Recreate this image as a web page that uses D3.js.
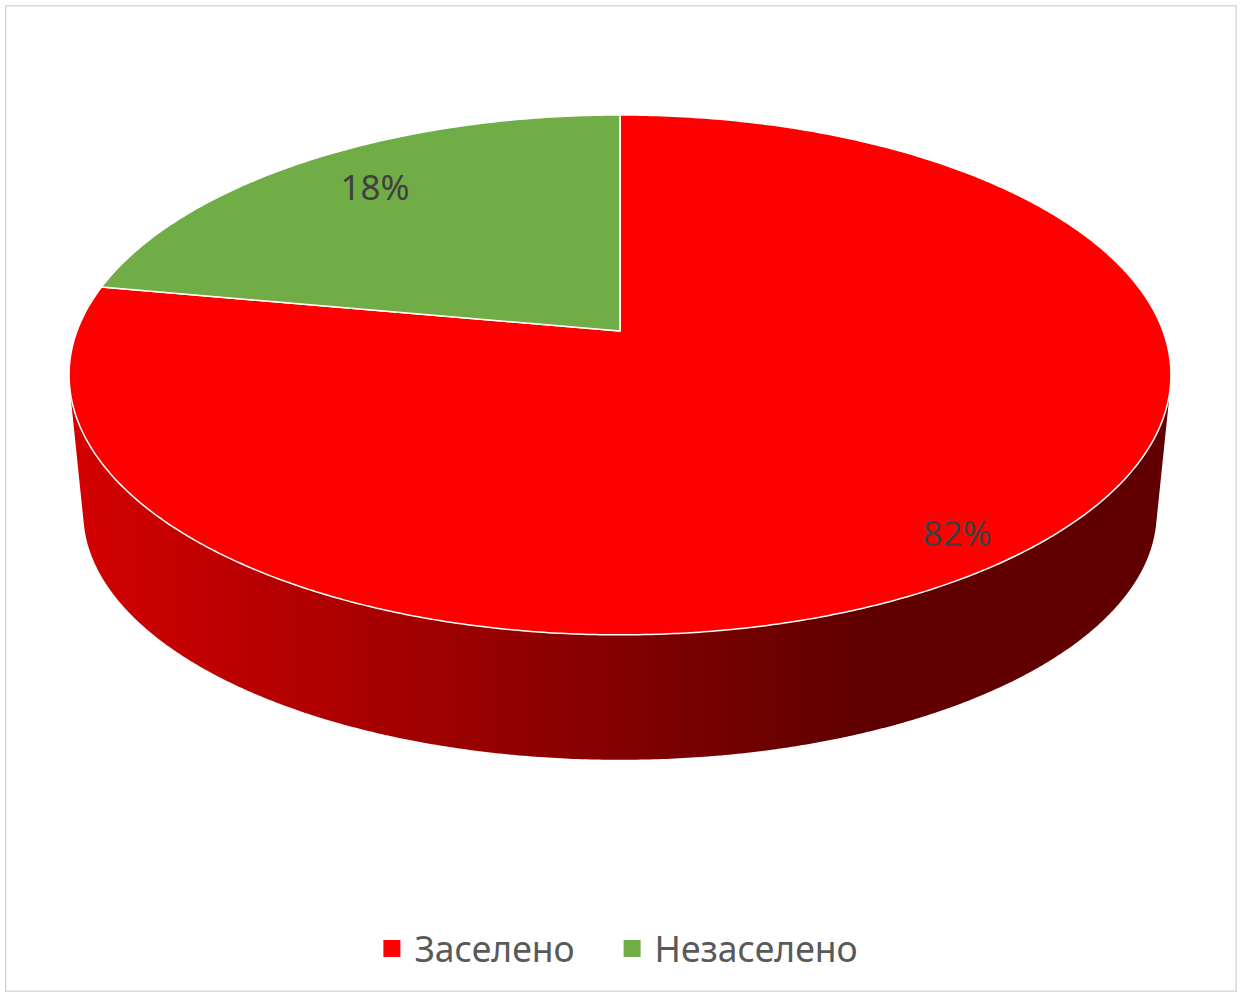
<!DOCTYPE html>
<html>
<head>
<meta charset="utf-8">
<script src="https://cdn.jsdelivr.net/npm/d3@7/dist/d3.min.js"></script>
<style>
  html, body { margin: 0; padding: 0; background: #ffffff; }
  svg { display: block; }
</style>
</head>
<body>
<svg id="chart" width="1243" height="996"></svg>
<script>
// ---- data ----
const categories = ["Заселено", "Незаселено"];
const values = [82, 18];
const labels = ["82%", "18%"];
const colors = ["#ff0000", "#70ad47"];

// ---- layout ----
const W = 1243, H = 996;
const cx = 620, cy = 331;          // projected pie centre
const Sx = 543, Sy = 252.5;        // top face scale
const persp = 0.169;               // perspective factor
const boost = 0.267;               // rim angle distortion (3D view)
const SxB = 529, SyB = 240, cyB = 471; // bottom rim
const font = "'Noto Sans', 'Open Sans', sans-serif";

const svg = d3.select("#chart");

svg.append("rect").attr("x", 5.75).attr("y", 5.75)
  .attr("width", W - 12.5).attr("height", H - 10.5)
  .attr("fill", "#ffffff").attr("stroke", "#d9d9d9").attr("stroke-width", 1.5);

const defs = svg.append("defs");
const grad = defs.append("linearGradient").attr("id", "sideGrad")
  .attr("gradientUnits", "userSpaceOnUse")
  .attr("x1", 70).attr("y1", 0).attr("x2", 860).attr("y2", 0);
grad.append("stop").attr("offset", 0).attr("stop-color", "#d40000");
grad.append("stop").attr("offset", 1).attr("stop-color", "#600000");

function rimPlane(a) {
  const u = Math.sin(a), v = -Math.cos(a);
  const d = 1 + boost * v;
  return [u * Math.sqrt(1 - boost * boost) / d, (v + boost) / d];
}
function topPt(a) {
  const [u, v] = rimPlane(a);
  const w = 1 - persp * v;
  return [cx + Sx * u / w, cy + Sy * v / w];
}
function botPt(a) {
  const [u, v] = rimPlane(a);
  const w = 1 - persp * v;
  return [cx + SxB * u / w, cyB + SyB * v / w];
}

const pie = d3.pie().sort(null).value(d => d).startAngle(0).endAngle(2 * Math.PI);
const arcs = pie(values);

// side walls (union of small quads, all with the same orientation)
const step = Math.PI / 360;
let sidePath = "";
for (let a = 0; a < 2 * Math.PI - 1e-9; a += step) {
  const b = Math.min(a + step * 1.05, 2 * Math.PI);
  let q = [topPt(a), topPt(b), botPt(b), botPt(a)];
  let area = 0;
  for (let j = 0; j < 4; j++) {
    const p = q[j], r = q[(j + 1) % 4];
    area += p[0] * r[1] - r[0] * p[1];
  }
  if (area < 0) q = q.reverse();
  sidePath += "M" + q.map(p => p[0].toFixed(2) + "," + p[1].toFixed(2)).join("L") + "Z";
}
svg.append("path").attr("d", sidePath).attr("fill", "url(#sideGrad)").attr("fill-rule", "nonzero");

// top faces
const line = d3.line();
arcs.forEach((d, i) => {
  const pts = [[cx, cy]];
  const n = Math.max(8, Math.ceil((d.endAngle - d.startAngle) / (Math.PI / 360)));
  for (let j = 0; j <= n; j++) {
    pts.push(topPt(d.startAngle + (d.endAngle - d.startAngle) * j / n));
  }
  svg.append("path").attr("d", line(pts) + "Z")
    .attr("fill", colors[i]).attr("stroke", "#ffffff")
    .attr("stroke-width", 1.5).attr("stroke-linejoin", "round");
});

// data labels
const labelNudge = [[92, -25], [0, -6]];
arcs.forEach((d, i) => {
  const m = (d.startAngle + d.endAngle) / 2;
  const f = 0.83;
  const x = 620 + Math.sin(m) * 551 * f + labelNudge[i][0];
  const y = 375 - Math.cos(m) * 260 * f + labelNudge[i][1];
  svg.append("text").attr("x", x).attr("y", y)
    .attr("text-anchor", "middle").attr("dominant-baseline", "central")
    .attr("font-family", font).attr("font-size", 35)
    .attr("fill", "#404040").text(labels[i]);
});

// legend
const lg = svg.append("g");
const items = categories.map((c, i) => {
  const g = lg.append("g");
  g.append("rect").attr("width", 17).attr("height", 17).attr("y", -22).attr("fill", colors[i]);
  const t = g.append("text").attr("x", 31).attr("y", 0)
    .attr("font-family", font).attr("font-size", 35.5).attr("fill", "#595959").text(c);
  return { g, w: 31 + t.node().getComputedTextLength() };
});
const gap = 49;
const total = items.reduce((s, it) => s + it.w, 0) + gap * (items.length - 1);
let x0 = 620.5 - total / 2;
items.forEach(it => { it.g.attr("transform", `translate(${x0},962)`); x0 += it.w + gap; });
</script>
</body>
</html>
